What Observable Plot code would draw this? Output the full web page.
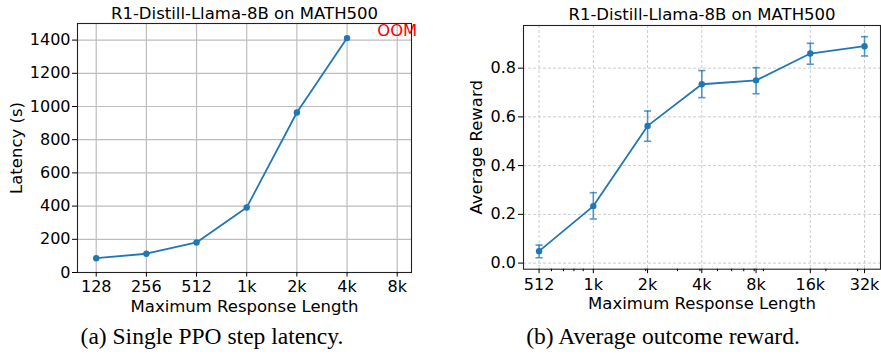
<!DOCTYPE html>
<html><head><meta charset="utf-8">
<script src="https://cdn.jsdelivr.net/npm/d3@7"></script>
<script src="https://cdn.jsdelivr.net/npm/@observablehq/plot@0.6"></script>
<style>
body{margin:0;background:#fff;}
#wrap{position:relative;width:881px;height:354px;overflow:hidden;background:#fff;}
#a{position:absolute;left:0;top:0;}
#b{position:absolute;left:440px;top:0;}
.cap{position:absolute;top:325px;font-family:"Liberation Serif","Times New Roman",serif;font-size:23.5px;line-height:1;white-space:nowrap;transform:translateX(-50%);color:#000;}
</style></head><body>
<div id="wrap"><div id="a"></div><div id="b"></div>
<div class="cap" id="capA" style="left:212px"></div>
<div class="cap" id="capB" style="left:663px"></div>
</div>
<script>
// ---- data ----
const title = "R1-Distill-Llama-8B on MATH500";
const xLabel = "Maximum Response Length";

const latencyLengths = [128, 256, 512, 1024, 2048, 4096];
const latencySeconds = [86, 113, 181, 392, 964, 1412];
const latencyTicks = [128, 256, 512, 1024, 2048, 4096, 8192];
const latencyTickLabels = ["128", "256", "512", "1k", "2k", "4k", "8k"];
const latencyYTicks = [0, 200, 400, 600, 800, 1000, 1200, 1400];
const oomNote = [{x: 8192, y: 1455, text: "OOM"}];

const rewardLengths = [512, 1024, 2048, 4096, 8192, 16384, 32768];
const rewardMean = [0.049, 0.234, 0.563, 0.734, 0.750, 0.860, 0.890];
const rewardLow  = [0.022, 0.181, 0.500, 0.679, 0.695, 0.816, 0.850];
const rewardHigh = [0.074, 0.289, 0.624, 0.790, 0.802, 0.902, 0.929];
const rewardTicks = [512, 1024, 2048, 4096, 8192, 16384, 32768];
const rewardTickLabels = ["512", "1k", "2k", "4k", "8k", "16k", "32k"];
const rewardMinorTicks = [600, 700, 800, 900, 2000, 3000, 4000, 5000, 6000, 7000, 8000, 9000, 20000, 30000];
const rewardYTicks = [0, 0.2, 0.4, 0.6, 0.8];

const captionA = "(a) Single PPO step latency.";
const captionB = "(b) Average outcome reward.";

// ---- styling ----
const blue = "#1f77b4";
const font = "DejaVu Sans";
const H = 320;

const latencyData = latencyLengths.map((x, i) => ({x, y: latencySeconds[i]}));
const rewardData = rewardLengths.map((x, i) => ({x, y: rewardMean[i], lo: rewardLow[i], hi: rewardHigh[i]}));

const capSymbol = {draw(ctx) { ctx.moveTo(-3.6, 0); ctx.lineTo(3.6, 0); }};
const labelStyle = {fontSize: 16.5, textAnchor: "middle", lineAnchor: "middle"};

const chartA = Plot.plot({
  width: 440, height: H,
  marginLeft: 77, marginRight: 29, marginTop: 23, marginBottom: H - 272,
  style: {fontFamily: font, fontSize: "16px", color: "#000", background: "transparent"},
  x: {type: "log", base: 2, domain: [128 / 2 ** 0.373, 8192 * 2 ** 0.285]},
  y: {domain: [0, 1500]},
  marks: [
    Plot.gridX({ticks: latencyTicks, stroke: "#bdbdbd", strokeOpacity: 1, strokeWidth: 1.2}),
    Plot.gridY({ticks: latencyYTicks, stroke: "#bdbdbd", strokeOpacity: 1, strokeWidth: 1.2}),
    Plot.line(latencyData, {x: "x", y: "y", stroke: blue, strokeWidth: 1.8}),
    Plot.dot(latencyData, {x: "x", y: "y", fill: blue, r: 3.2}),
    Plot.text(oomNote, {x: "x", y: "y", text: "text", fill: "red", fontSize: 16.4}),
    Plot.frame({stroke: "#222", strokeWidth: 1.1}),
    Plot.axisX({ticks: latencyTicks, tickFormat: d => latencyTickLabels[latencyTicks.indexOf(d)], tickSize: 4.5, tickPadding: 3.5, fontSize: 16, label: null}),
    Plot.axisY({ticks: latencyYTicks, tickFormat: d => String(d), tickSize: 5, tickPadding: 2, fontSize: 16, label: null}),
    Plot.text([title], {frameAnchor: "top", dy: -10, ...labelStyle}),
    Plot.text([xLabel], {frameAnchor: "bottom", dy: 34.2, ...labelStyle}),
    Plot.text(["Latency (s)"], {frameAnchor: "left", dx: -61, rotate: -90, ...labelStyle})
  ]
});
document.getElementById("a").appendChild(chartA);

const chartB = Plot.plot({
  width: 441, height: H,
  marginLeft: 83, marginRight: 1, marginTop: 25, marginBottom: H - 268.7,
  style: {fontFamily: font, fontSize: "16px", color: "#000", background: "transparent"},
  x: {type: "log", base: 2, domain: [512 / 2 ** 0.287, 32768 * 2 ** 0.294]},
  y: {domain: [-0.025, 0.975]},
  marks: [
    Plot.gridX({ticks: rewardTicks, stroke: "#cccccc", strokeOpacity: 1, strokeWidth: 1, strokeDasharray: "3,2"}),
    Plot.gridY({ticks: rewardYTicks, stroke: "#cccccc", strokeOpacity: 1, strokeWidth: 1, strokeDasharray: "3,2"}),
    Plot.ruleX(rewardData, {x: "x", y1: "lo", y2: "hi", stroke: blue, strokeWidth: 1.6, strokeOpacity: 0.75}),
    Plot.dot(rewardData, {x: "x", y: "lo", symbol: capSymbol, stroke: blue, strokeWidth: 1.6, strokeOpacity: 0.75, fill: "none"}),
    Plot.dot(rewardData, {x: "x", y: "hi", symbol: capSymbol, stroke: blue, strokeWidth: 1.6, strokeOpacity: 0.75, fill: "none"}),
    Plot.line(rewardData, {x: "x", y: "y", stroke: blue, strokeWidth: 1.8}),
    Plot.dot(rewardData, {x: "x", y: "y", fill: blue, r: 3.2}),
    Plot.frame({stroke: "#222", strokeWidth: 1.1}),
    Plot.axisX({ticks: rewardMinorTicks, tickSize: 2.5, fill: "none", label: null}),
    Plot.axisX({ticks: rewardTicks, tickFormat: d => rewardTickLabels[rewardTicks.indexOf(d)], tickSize: 4.5, tickPadding: 4.5, fontSize: 16, label: null}),
    Plot.axisY({ticks: rewardYTicks, tickFormat: d3.format(".1f"), tickSize: 5, tickPadding: 2.5, fontSize: 16, label: null}),
    Plot.text([title], {frameAnchor: "top", dy: -10.3, ...labelStyle}),
    Plot.text([xLabel], {frameAnchor: "bottom", dy: 35, ...labelStyle}),
    Plot.text(["Average Reward"], {frameAnchor: "left", dx: -46.7, rotate: -90, ...labelStyle})
  ]
});
document.getElementById("b").appendChild(chartB);

document.getElementById("capA").textContent = captionA;
document.getElementById("capB").textContent = captionB;
</script>
</body></html>
